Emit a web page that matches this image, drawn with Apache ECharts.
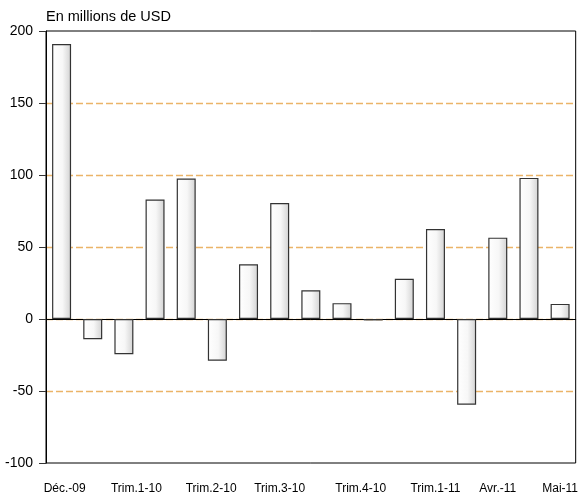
<!DOCTYPE html>
<html>
<head>
<meta charset="utf-8">
<script src="https://cdn.jsdelivr.net/npm/echarts@6/dist/echarts.min.js"></script>
<style>
html,body{margin:0;padding:0;background:#fff;}
#main{width:581px;height:498px;}
</style>
</head>
<body>
<div id="main"></div>
<script>
// periodes (17 barres)
var periodes = ['Déc.-09','P2','P3','P4','P5','P6','P7','P8','P9','P10','P11','P12','P13','P14','P15','P16','Mai-11'];
// valeurs en millions de USD
var valeurs = [191, -14, -24.5, 83, 97.5, -29, 38, 80.5, 20, 11, -1, 28, 62.5, -59.5, 56.5, 98, 10.5];
// etiquettes de l'axe des abscisses et leur position (en nombre de barres)
var etiquettes = ['Déc.-09','Trim.1-10','Trim.2-10','Trim.3-10','Trim.4-10','Trim.1-11','Avr.-11','Mai-11'];
var positions = [0.6, 2.9, 5.3, 7.5, 10.1, 12.5, 14.5, 16.5];

var myChart = echarts.init(document.getElementById('main'));

var option = {
    animation: false,
    title: {
        text: 'En millions de USD',
        left: 46,
        top: 9,
        padding: 0,
        textStyle: {fontFamily: 'Liberation Sans', fontSize: 14.5, fontWeight: 'normal', color: '#000'}
    },
    grid: {
        left: 46, right: 1, top: 31, bottom: 35,
        show: true,
        borderColor: '#000',
        borderWidth: 1,
        backgroundColor: 'transparent'
    },
    xAxis: [
        {
            type: 'category',
            data: periodes,
            axisLine: {onZero: true, lineStyle: {color: '#000', width: 1}},
            axisTick: {show: false},
            axisLabel: {show: false},
            splitLine: {show: false}
        },
        {
            type: 'value',
            min: 0,
            max: periodes.length,
            position: 'bottom',
            axisLine: {show: false},
            axisTick: {show: false},
            splitLine: {show: false},
            axisLabel: {
                customValues: positions,
                margin: 20,
                fontFamily: 'Liberation Sans',
                fontSize: 12,
                color: '#000',
                formatter: function (v) {
                    var i = positions.indexOf(v);
                    return i >= 0 ? etiquettes[i] : '';
                }
            }
        }
    ],
    yAxis: {
        type: 'value',
        min: -100,
        max: 200,
        interval: 50,
        axisLine: {show: true, lineStyle: {color: '#000', width: 1}},
        axisTick: {show: true, length: 7, lineStyle: {color: '#333'}},
        axisLabel: {margin: 13, fontFamily: 'Liberation Sans', fontSize: 14, color: '#000'},
        splitLine: {
            show: true,
            showMinLine: false,
            showMaxLine: false,
            lineStyle: {color: ['#EBB468'], type: [7, 3], width: 1.4}
        }
    },
    series: [
        {
            type: 'bar',
            xAxisIndex: 0,
            data: valeurs,
            barWidth: 19,
            itemStyle: {
                color: new echarts.graphic.LinearGradient(0, 0, 1, 0, [
                    {offset: 0, color: '#ffffff'},
                    {offset: 0.55, color: '#f7f7f7'},
                    {offset: 1, color: '#d2d2d2'}
                ]),
                borderColor: '#333',
                borderWidth: 1.2
            }
        }
    ]
};
myChart.setOption(option);
</script>
</body>
</html>
